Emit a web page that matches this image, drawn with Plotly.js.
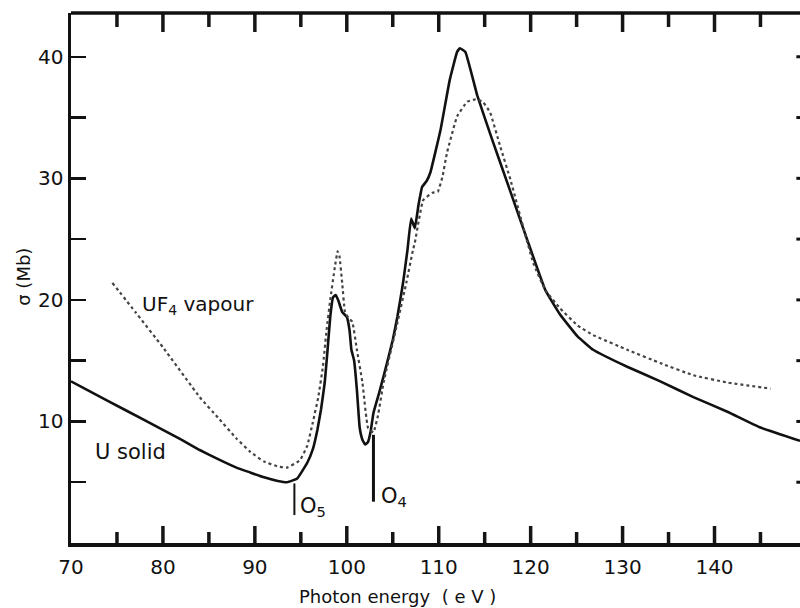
<!DOCTYPE html>
<html>
<head>
<meta charset="utf-8">
<script src="https://cdn.plot.ly/plotly-3.0.1.min.js"></script>
<style>html,body{margin:0;padding:0;background:#fff;}#chart{width:800px;height:608px;}</style>
</head>
<body>
<div id="chart"></div>
<script>
// U solid (solid line)
const solidEnergy = [70.0, 74, 78, 82, 84, 86, 88, 89.5, 91, 92.5, 93.5, 94.6, 95.7, 96.3, 96.8, 97.2, 97.6, 97.9, 98.2, 98.5, 98.8, 99.1, 99.5, 100.0, 100.3, 100.5, 100.8, 101.1, 101.4, 101.7, 102.0, 102.3, 102.6, 102.9, 103.5, 104.0, 105.0, 105.5, 106.1, 106.6, 107.0, 107.4, 107.8, 108.2, 108.7, 109.1, 110.2, 111.2, 112.0, 112.3, 112.9, 114.2, 115.9, 117.8, 119.6, 121.6, 123.2, 125.1, 126.8, 130.5, 134.1, 137.7, 141.4, 145.0, 149.3];
const solidSigma = [13.3, 11.7, 10.1, 8.5, 7.65, 6.9, 6.2, 5.8, 5.4, 5.1, 5.0, 5.3, 6.6, 7.7, 9.3, 11.0, 13.2, 15.8, 18.6, 20.2, 20.4, 19.9, 19.0, 18.6, 17.5, 15.9, 15.0, 12.6, 9.5, 8.5, 8.1, 8.3, 9.2, 10.7, 12.3, 13.7, 16.7, 18.6, 21.3, 24.1, 26.7, 25.9, 27.8, 29.3, 29.8, 30.5, 34.0, 38.1, 40.4, 40.7, 40.4, 36.8, 33.0, 28.9, 25.0, 20.8, 18.8, 17.0, 15.9, 14.5, 13.3, 12.0, 10.8, 9.5, 8.4];

// UF4 vapour (dotted line)
const vapourEnergy = [74.5, 77, 80, 84.0, 86, 88, 89.5, 91, 92.5, 93.5, 94.9, 95.7, 96.3, 96.9, 97.4, 97.8, 98.2, 98.7, 99.0, 99.2, 99.5, 99.8, 100.2, 100.6, 101.1, 101.7, 102.3, 102.9, 103.4, 104.0, 105.5, 106.5, 107.2, 107.4, 108.3, 109.3, 109.9, 110.4, 110.9, 112.0, 113.1, 114.0, 114.8, 115.6, 116.7, 117.8, 118.9, 120.3, 121.6, 123.2, 125.1, 126.8, 130.5, 134.1, 137.7, 141.4, 146.1];
const vapourSigma = [21.4, 19.0, 16.1, 12.0, 10.3, 8.6, 7.5, 6.7, 6.3, 6.2, 6.8, 8.0, 9.9, 12.0, 14.5, 17.5, 20.0, 22.7, 24.0, 23.6, 21.4, 19.0, 18.5, 18.2, 15.9, 13.2, 9.5, 9.1, 10.5, 13.2, 18.1, 21.5, 24.1, 24.7, 28.2, 28.8, 28.9, 30.1, 32.1, 35.1, 36.3, 36.5, 36.3, 35.4, 32.6, 29.9, 26.8, 23.0, 20.8, 19.3, 17.9, 17.1, 15.9, 14.8, 13.8, 13.2, 12.7];

// Tick labels and tick positions
const xTickVals = [70, 80, 90, 100, 110, 120, 130, 140];
const xTickText = ['70', '80', '90', '100', '110', '120', '130', '140'];
const xMajorMarks = [80, 90, 100, 110, 120, 130, 140];
const xMinorMarks = [75, 85, 95, 105, 115, 125, 135, 145];
const yTickVals = [10, 20, 30, 40];
const yTickText = ['10', '20', '30', '40'];
const yRightTicks = [5, 10, 15, 20, 25, 30, 35, 40];

// Absorption edges
const edgeNames = ['O<sub>5</sub>', 'O<sub>4</sub>'];
const edgeEnergy = [94.3, 102.9];
const edgeTop = [4.9, 8.9];
const edgeBottom = [2.3, 3.4];

const FONT = 'DejaVu Sans, Liberation Sans, sans-serif';
const INK = '#111';
const Y_TOP = 43.6;
const PX_PER_MB = 530 / Y_TOP;

// x-axis tick marks on the bottom and top frame, built from the tick arrays
const tickX = [], tickY = [];
function addTick(v, lenPx, atTop) {
  const y0 = atTop ? Y_TOP : 0;
  const y1 = atTop ? Y_TOP - lenPx / PX_PER_MB : lenPx / PX_PER_MB;
  tickX.push(v, v, null);
  tickY.push(y0, y1, null);
}
xMajorMarks.forEach(v => { addTick(v, 19, true); addTick(v, 17, false); });
xMinorMarks.forEach(v => { addTick(v, 14, true); addTick(v, 11, false); });

const traces = [
  {x: solidEnergy, y: solidSigma, type: 'scatter', mode: 'lines', name: 'U solid',
   line: {color: INK, width: 2.6, shape: 'spline', smoothing: 0.3}},
  {x: vapourEnergy, y: vapourSigma, type: 'scatter', mode: 'lines', name: 'UF4 vapour',
   line: {color: '#444', width: 2.2, dash: 'dot', shape: 'spline', smoothing: 0.3}},
  {x: tickX, y: tickY, type: 'scatter', mode: 'lines', name: 'ticks', hoverinfo: 'skip',
   line: {color: '#151515', width: 3.5, simplify: false}}
];

let shapes = [];
edgeEnergy.forEach((e, i) => shapes.push({
  type: 'line', xref: 'x', yref: 'y', x0: e, x1: e, y0: edgeTop[i], y1: edgeBottom[i],
  line: {color: INK, width: i === 0 ? 2 : 3}
}));
yRightTicks.forEach(v => shapes.push({
  type: 'line', xref: 'paper', yref: 'y', x0: 0.995, x1: 1.0, y0: v, y1: v,
  line: {color: INK, width: 3}
}));
shapes.push({type: 'line', xref: 'paper', yref: 'paper', x0: 0, x1: 1, y0: 1, y1: 1, line: {color: INK, width: 3.5}});

const annotations = [
  {x: 77.5, y: 19.6, xref: 'x', yref: 'y', text: 'UF<sub>4</sub> vapour', showarrow: false,
   xanchor: 'left', yanchor: 'middle', font: {family: FONT, size: 20, color: INK}},
  {x: 72.4, y: 7.5, xref: 'x', yref: 'y', text: 'U solid', showarrow: false,
   xanchor: 'left', yanchor: 'middle', font: {family: FONT, size: 21, color: INK}},
  {x: edgeEnergy[0] + 0.35, y: 3.0, xref: 'x', yref: 'y', text: edgeNames[0], showarrow: false,
   xanchor: 'left', yanchor: 'middle', font: {family: FONT, size: 21, color: INK}},
  {x: edgeEnergy[1] + 0.6, y: 3.8, xref: 'x', yref: 'y', text: edgeNames[1], showarrow: false,
   xanchor: 'left', yanchor: 'middle', font: {family: FONT, size: 21, color: INK}},
  {x: 105.5, y: -0.1, xref: 'x', yref: 'paper', text: 'Photon energy  ( e V )', showarrow: false,
   xanchor: 'center', yanchor: 'middle', font: {family: FONT, size: 18, color: INK}},
  {x: -0.0645, y: 21.9, xref: 'paper', yref: 'y', text: 'σ (Mb)', showarrow: false, textangle: -90,
   xanchor: 'center', yanchor: 'middle', font: {family: FONT, size: 18, color: INK}}
];

const layout = {
  width: 800, height: 608,
  margin: {l: 71, r: 0, t: 13, b: 65, pad: 0},
  paper_bgcolor: '#fff', plot_bgcolor: '#fff',
  showlegend: false,
  font: {family: FONT, color: INK},
  xaxis: {
    range: [70, 149.3], showgrid: false, zeroline: false,
    showline: true, linecolor: INK, linewidth: 3.5, mirror: false,
    tickmode: 'array', tickvals: xTickVals, ticktext: xTickText,
    ticks: 'outside', ticklen: 3, tickwidth: 0.01, tickcolor: '#fff',
    tickfont: {family: FONT, size: 20, color: INK}
  },
  yaxis: {
    range: [0, Y_TOP], showgrid: false, zeroline: false,
    showline: true, linecolor: INK, linewidth: 3.5, mirror: false,
    tickmode: 'array', tickvals: yTickVals, ticktext: yTickText,
    ticks: 'inside', ticklen: 15, tickwidth: 2.5, tickcolor: INK,
    tickfont: {family: FONT, size: 20, color: INK},
    minor: {dtick: 5, tick0: 0, ticks: 'inside', ticklen: 15, tickwidth: 2.5, tickcolor: INK, showgrid: false}
  },
  shapes: shapes,
  annotations: annotations
};

Plotly.newPlot('chart', traces, layout, {staticPlot: true, displayModeBar: false});
</script>
</body>
</html>
